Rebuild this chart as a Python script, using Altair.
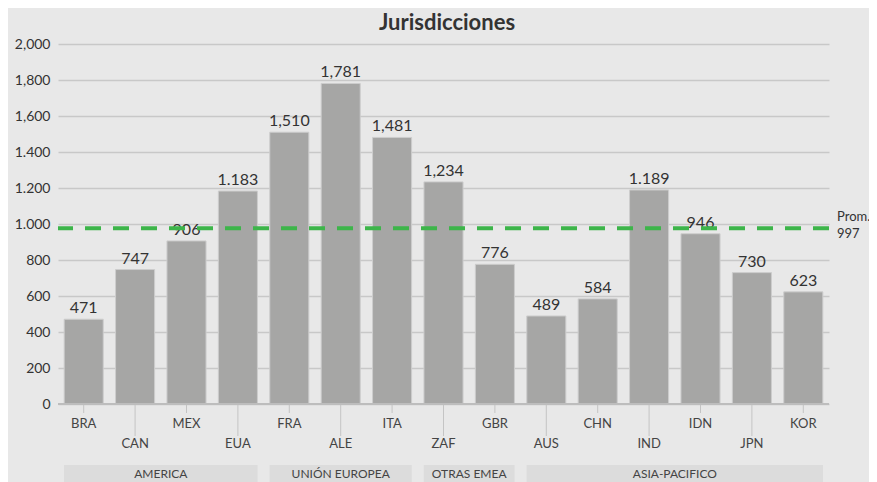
import altair as alt
import pandas as pd

categories = ["BRA", "CAN", "MEX", "EUA", "FRA", "ALE", "ITA", "ZAF",
              "GBR", "AUS", "CHN", "IND", "IDN", "JPN", "KOR"]
values = [471, 747, 906, 1183, 1510, 1781, 1481, 1234, 776, 489, 584, 1189, 946, 730, 623]
value_labels = ["471", "747", "906", "1.183", "1,510", "1,781", "1,481", "1,234",
                "776", "489", "584", "1.189", "946", "730", "623"]
groups = ["AMERICA", "UNIÓN EUROPEA", "OTRAS EMEA", "ASIA-PACIFICO"]
group_first = ["BRA", "FRA", "ZAF", "AUS"]
group_last = ["EUA", "ITA", "GBR", "KOR"]
y_ticks = [0, 200, 400, 600, 800, 1000, 1200, 1400, 1600, 1800, 2000]
y_tick_labels = ["0", "200", "400", "600", "800", "1.000", "1.200", "1.400", "1,600", "1,800", "2,000"]
avg_line = 977
avg_label = "997"
title_text = "Jurisdicciones"

FONT = "Lato"
TXT = "#333333"

df = pd.DataFrame({"cat": categories, "value": values, "label": value_labels})
df["row"] = ["top" if i % 2 == 0 else "bottom" for i in range(len(categories))]

dfg = pd.DataFrame({
    "group": groups,
    "start": [categories.index(c) for c in group_first],
    "end": [categories.index(c) + 1 for c in group_last],
})
dfg["mid"] = (dfg["start"] + dfg["end"]) / 2

band = alt.Scale(type="band", paddingInner=0.24, paddingOuter=0.12)
xb = alt.X("cat:N", sort=categories, scale=band, axis=None)

label_expr = "[" + ",".join("'%s'" % s for s in y_tick_labels) + "][indexof([" + \
    ",".join(str(v) for v in y_ticks) + "], datum.value)]"

yscale = alt.Scale(domain=[0, 2000])
yaxis = alt.Axis(values=y_ticks, labelExpr=label_expr, grid=True,
                 gridColor="#c8c8c8", gridWidth=1.5, domain=False,
                 ticks=False, labelFontSize=14, labelColor=TXT,
                 labelOverlap=False, labelPadding=8, labelFont=FONT,
                 title=None)


def Y(field):
    return alt.Y(field, scale=yscale, axis=yaxis)


base = alt.Chart(df)

bars = base.mark_bar(color="#a6a6a5", stroke="#cdcdcd", strokeWidth=1).encode(
    x=xb, y=Y("value:Q"))

bar_text = base.mark_text(baseline="bottom", dy=-3, fontSize=16, color=TXT, font=FONT).encode(
    x=xb, y=Y("value:Q"), text="label:N")

zero = alt.Chart(pd.DataFrame({"z": [0]})).mark_rule(color="#bdbdbd", strokeWidth=2).encode(
    y=Y("z:Q"))

avg = alt.Chart(pd.DataFrame({"avg": [avg_line], "t1": ["Prom."], "t2": [avg_label]}))
avg_rule = avg.mark_rule(color="#3db54a", strokeWidth=4, strokeDash=[16, 12]).encode(
    y=Y("avg:Q"))
avg_t1 = avg.mark_text(align="left", baseline="middle", dy=-11, fontSize=13, color=TXT, font=FONT).encode(
    x=alt.value(779), y=Y("avg:Q"), text="t1:N")
avg_t2 = avg.mark_text(align="left", baseline="middle", dy=6, fontSize=13, color=TXT, font=FONT).encode(
    x=alt.value(779), y=Y("avg:Q"), text="t2:N")

ticks_top = base.transform_filter(alt.datum.row == "top").mark_rule(color="#c4c4c4", strokeWidth=1).encode(
    x=xb, y=alt.value(361), y2=alt.value(369))
ticks_bot = base.transform_filter(alt.datum.row == "bottom").mark_rule(color="#c4c4c4", strokeWidth=1).encode(
    x=xb, y=alt.value(361), y2=alt.value(392))
lab_top = base.transform_filter(alt.datum.row == "top").mark_text(
    baseline="middle", fontSize=13, color="#444444", font=FONT).encode(
    x=xb, y=alt.value(380), text="cat:N")
lab_bot = base.transform_filter(alt.datum.row == "bottom").mark_text(
    baseline="middle", fontSize=13, color="#444444", font=FONT).encode(
    x=xb, y=alt.value(399.5), text="cat:N")

title = alt.Chart(pd.DataFrame({"t": [title_text]})).mark_text(
    baseline="alphabetic", fontSize=22, fontWeight="bold", font=FONT, color=TXT).encode(
    x=alt.value(389), y=alt.value(-14), text="t:N")

main = alt.layer(bars, zero, bar_text, avg_rule, avg_t1, avg_t2,
                 ticks_top, ticks_bot, lab_top, lab_bot, title)

gx = alt.Scale(domain=[0, len(categories)], nice=False, zero=False)
gbase = alt.Chart(dfg)
gbox = gbase.mark_rect(color="#dcdcdc", xOffset=6, x2Offset=-6).encode(
    x=alt.X("start:Q", scale=gx, axis=None), x2="end:Q",
    y=alt.value(421), y2=alt.value(446))
gtext = gbase.mark_text(baseline="middle", fontSize=12, color="#444444", font=FONT).encode(
    x=alt.X("mid:Q", scale=gx, axis=None), y=alt.value(430), text="group:N")
glayer = alt.layer(gbox, gtext)

chart = alt.layer(main, glayer).resolve_scale(x="independent").properties(
    width=771, height=360,
    autosize="none",
    padding={"left": 50, "top": 36, "right": 40, "bottom": 78},
    background="#e8e8e8",
).configure_view(stroke=None)

chart.save("out.html", embed_options={"renderer": "svg", "actions": False})
